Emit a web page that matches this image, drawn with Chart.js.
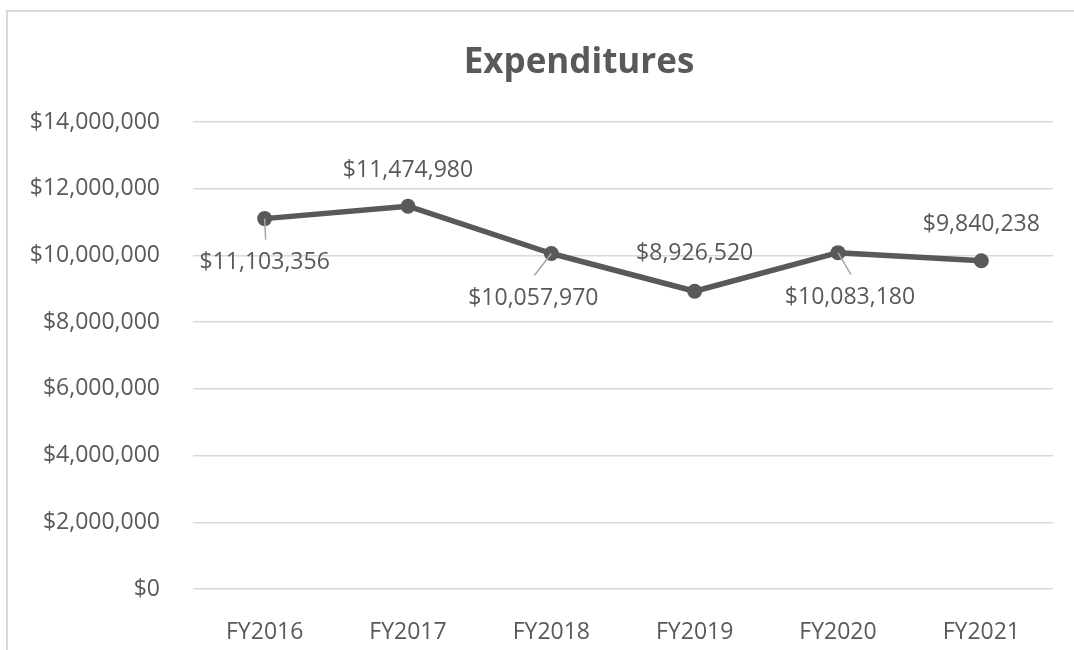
<!DOCTYPE html>
<html>
<head>
<meta charset="utf-8">
<title>Expenditures</title>
<script src="https://cdn.jsdelivr.net/npm/chart.js@4"></script>
<style>
  html, body { margin: 0; padding: 0; background: #fff; overflow: hidden; width: 1074px; height: 650px; }
  #frame { position: absolute; left: 6px; top: 10px; width: 1142px; height: 650px; border: 2px solid #d9d9d9; }
  #frame canvas { display: block; }
</style>
</head>
<body>
<div id="frame"><canvas id="chart" width="1142" height="638"></canvas></div>
<script>
  const categories = ["FY2016", "FY2017", "FY2018", "FY2019", "FY2020", "FY2021"];
  const expenditures = [11103356, 11474980, 10057970, 8926520, 10083180, 9840238];
  const yMax = 14000000;
  const yStep = 2000000;

  // where each data label sits relative to its point, and whether it gets a leader line
  const labelOffsets = [[0, 44], [0, -36], [-18, 45], [0, -38], [12, 45], [0, -36]];
  const hasLeader = [true, false, true, false, true, false];

  const TEXT = "#595959";
  const FONT = '"Open Sans", "DejaVu Sans", sans-serif';
  const money = (v) => "$" + Number(v).toLocaleString("en-US");

  const valueLabels = {
    id: "valueLabels",
    afterDatasetsDraw(chart) {
      const { ctx } = chart;
      const meta = chart.getDatasetMeta(0);
      ctx.save();
      ctx.font = `23px ${FONT}`;
      ctx.fillStyle = TEXT;
      ctx.textAlign = "center";
      ctx.textBaseline = "middle";
      meta.data.forEach((pt, i) => {
        const [dx, dy] = labelOffsets[i];
        const lx = pt.x + dx, ly = pt.y + dy;
        if (hasLeader[i]) {
          ctx.strokeStyle = "#a6a6a6";
          ctx.lineWidth = 1.5;
          ctx.beginPath();
          ctx.moveTo(pt.x, pt.y);
          ctx.lineTo(lx + 1, ly - 23);
          ctx.stroke();
        }
        ctx.fillText(money(expenditures[i]), lx, ly);
      });
      ctx.restore();
    },
  };

  new Chart(document.getElementById("chart").getContext("2d"), {
    type: "line",
    data: {
      labels: categories,
      datasets: [{
        label: "Expenditures",
        data: expenditures,
        borderColor: "#595959",
        backgroundColor: "#595959",
        borderWidth: 5.5,
        borderJoinStyle: "round",
        pointRadius: 7.5,
        pointHoverRadius: 7.5,
        pointBackgroundColor: "#595959",
        pointBorderColor: "#595959",
        pointBorderWidth: 0,
        tension: 0,
      }],
    },
    options: {
      responsive: false,
      animation: false,
      layout: { padding: 0 },
      plugins: {
        legend: { display: false },
        tooltip: { enabled: false },
        title: {
          display: true,
          text: "Expenditures",
          color: TEXT,
          font: { family: FONT, size: 35, weight: "bold" },
          padding: { top: 30, bottom: 38 },
        },
      },
      scales: {
        x: {
          offset: true,
          grid: { display: false },
          border: { display: false },
          ticks: { color: TEXT, font: { family: FONT, size: 23 }, padding: 22 },
          afterFit: (s) => { s.height = 61; },
        },
        y: {
          min: 0,
          max: yMax,
          grid: { color: "#d9d9d9", lineWidth: 1.5, drawTicks: false },
          border: { display: false },
          ticks: {
            stepSize: yStep,
            color: TEXT,
            font: { family: FONT, size: 23 },
            padding: 33,
            callback: (v) => money(v),
          },
          afterFit: (s) => { s.width = 185; },
        },
        // empty right-hand axis: only reserves the blank space right of the plot
        yRight: {
          position: "right",
          min: 0,
          max: yMax,
          grid: { display: false, drawTicks: false },
          border: { display: false },
          ticks: { display: false },
          afterFit: (s) => { s.width = 97; },
        },
      },
    },
    plugins: [valueLabels],
  });
</script>
</body>
</html>
